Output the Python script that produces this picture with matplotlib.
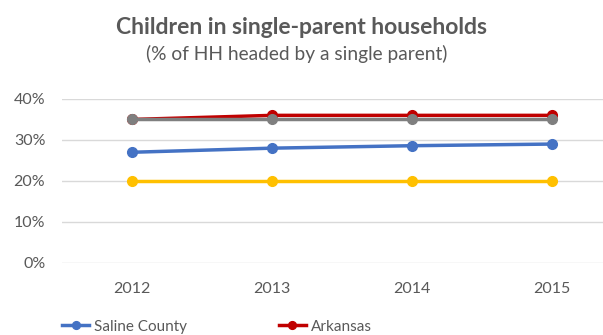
import numpy as np
import matplotlib.pyplot as plt
from matplotlib.ticker import PercentFormatter

# yearly share of households headed by a single parent
years = ["2012", "2013", "2014", "2015"]
saline = [27, 28, 28.6, 29]
arkansas = [35, 36, 36, 36]
gray_series = [35, 35, 35, 35]
yellow_series = [20, 20, 20, 20]

plt.rcParams['font.family'] = ['Lato', 'DejaVu Sans']
txt = '#595959'

fig = plt.figure(figsize=(6.03, 3.35), dpi=100)
ax = fig.add_axes([0.1028, 0.215, 0.8972, 0.4896])

x = np.arange(len(years))
ax.plot(x, yellow_series, color='#FFC000', lw=2.5, marker='o', ms=7, zorder=3)
ax.plot(x, saline, color='#4472C4', lw=2.5, marker='o', ms=7, label='Saline County', zorder=3)
ax.plot(x, arkansas, color='#C00000', lw=2.5, marker='o', ms=7, label='Arkansas', zorder=3)
ax.plot(x, gray_series, color='#7F7F7F', lw=2.5, marker='o', ms=7, zorder=4)

ax.set_ylim(0, 40)
ax.set_xlim(-0.5, 3.364)
ax.set_yticks([0, 10, 20, 30, 40])
ax.yaxis.set_major_formatter(PercentFormatter(decimals=0))
ax.set_xticks(x)
ax.set_xticklabels(years)
ax.grid(axis='y', color='#D9D9D9', lw=1)
ax.set_axisbelow(True)
for s in ax.spines.values():
    s.set_visible(False)
ax.tick_params(length=0, colors=txt, labelsize=11.5)
ax.tick_params(axis='y', pad=12)
ax.tick_params(axis='x', pad=14)

fig.text(0.5, 0.918, 'Children in single-parent households', ha='center', va='center',
         fontsize=16.5, fontweight='bold', color=txt)
fig.text(0.492, 0.84, '(% of HH headed by a single parent)', ha='center', va='center',
         fontsize=13.8, color=txt)

fig.legend(loc='center left', bbox_to_anchor=(0.08, 0.025), ncol=2, frameon=False,
           fontsize=11, labelcolor=txt, handlelength=1.8, handletextpad=0.3,
           columnspacing=6.0, markerscale=0.8)

fig.savefig('out.png', dpi=100)
